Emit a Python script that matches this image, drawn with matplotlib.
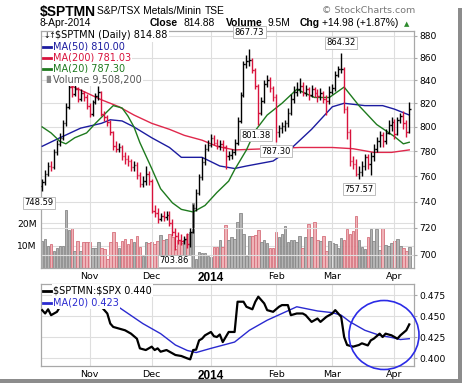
import numpy as np
import matplotlib
matplotlib.use("Agg")
import matplotlib.pyplot as plt
from matplotlib.patches import Ellipse, Rectangle
from matplotlib.lines import Line2D
from matplotlib.ticker import NullLocator, NullFormatter, FixedLocator

W, H = 464, 387

# trading-day index of the first bar of each month (Oct 9 2013 = 0)
month_labels = ["Nov", "Dec", "2014", "Feb", "Mar", "Apr"]
month_idx = [16, 37, 57, 79, 98, 119]

first_open = 752.0
closes = [
    755, 762, 768, 767, 779, 786, 791, 803, 817, 834, 828, 832, 824, 829, 825, 818,
    811, 821, 826, 830, 811, 808, 804, 796, 784, 782, 783, 776, 774, 772, 767, 769, 761, 754, 756, 762, 756,
    733, 731, 727, 729, 728, 730, 724, 717, 714, 711, 710, 712, 708, 717, 735, 747, 759, 771, 782, 785,
    791, 787, 784, 786, 783, 776, 777, 779, 787, 805, 827, 854, 857, 858, 849, 835, 812, 822, 837, 840, 833, 825,
    796, 799, 801, 803, 812, 824, 830, 832, 835, 829, 832, 827, 832, 829, 826, 829, 824, 822, 830,
    833, 845, 850, 850, 815, 796, 772, 770, 762, 763, 768, 775, 770, 776, 782, 788, 793, 788, 795, 802, 804,
    794, 806, 809, 803, 796, 814.88,
]
highs = [
    758, 765, 771, 772, 782, 789, 795, 806, 820, 840, 838, 836, 834, 832, 831, 828,
    820, 823, 829, 835, 831, 813, 810, 806, 797, 788, 787, 785, 779, 777, 774, 772, 771, 763, 760, 768, 764,
    758, 737, 735, 731, 733, 733, 733, 727, 720, 717, 715, 714, 716, 720, 738, 750, 762, 775, 786, 789,
    794, 793, 790, 789, 789, 785, 780, 782, 790, 808, 830, 857, 862, 867.73, 860, 851, 837, 825, 840, 845, 843, 835,
    828, 802, 804, 806, 816, 828, 835, 838, 842, 838, 836, 834, 836, 834, 832, 833, 831, 827, 835,
    837, 848, 853, 864.32, 852, 818, 798, 776, 774, 768, 772, 778, 778, 779, 786, 792, 797, 796, 798, 806, 808,
    807, 808, 812, 813, 806, 821,
]
lows = [
    748.59, 753, 760, 764, 766, 777, 784, 789, 801, 815, 825, 826, 821, 822, 822, 815,
    808, 809, 819, 823, 809, 805, 801, 793, 781, 779, 779, 773, 770, 768, 764, 764, 758, 751, 751, 753, 753,
    731, 728, 724, 725, 725, 726, 721, 714, 703.86, 708, 707, 708, 705, 706, 716, 733, 745, 757, 769, 780,
    783, 785, 782, 781, 780, 766, 773, 774, 777, 785, 803, 825, 851, 853, 846, 832, 801.38, 810, 820, 834, 830, 822,
    787.30, 792, 795, 797, 800, 810, 820, 826, 829, 826, 826, 823, 825, 825, 821, 823, 820, 810, 819,
    828, 831, 843, 846, 812, 790, 768, 766, 760, 757.57, 760, 765, 766, 761, 772, 779, 783, 783, 786, 794, 797,
    790, 793, 803, 798, 792, 795,
]
volume_m = [
    12.2, 13, 10, 10.7, 7.7, 8.9, 10, 10, 26, 17, 17.8, 7.7, 12, 7.7, 11.6, 11.6,
    11.8, 9, 8.9, 11.6, 9, 8.5, 4, 11.6, 16, 11.6, 9, 12, 13, 10.5, 13, 11.6, 14.4, 9.4, 5.5, 11.6, 11.3,
    11.6, 10.7, 12, 14.7, 12.3, 13, 15.3, 14, 8.6, 12.4, 11, 12.4, 15, 16, 29, 4, 7, 6.5, 6.5, 5.5,
    4.9, 9.3, 9.3, 12.4, 9.3, 19, 12.5, 14, 13, 20.7, 24.5, 15, 5.3, 14.4, 14.4, 14.7, 17, 11.6, 12.3, 11, 8.9, 8.9,
    16, 13.8, 15.2, 18.8, 11.6, 12.5, 12.5, 11.6, 14.4, 8.9, 13.8, 19.6, 13.8, 20.7, 12.5, 12, 14.4, 7.7, 12,
    11.3, 10.7, 9, 13.2, 12.6, 17.4, 15.2, 16.7, 23, 12.7, 9.2, 8.4, 13.8, 17.4, 12, 17.4, 8.2, 17.7, 10.3, 10, 11,
    12.2, 13, 10, 8.8, 7.7, 9.5,
]

# moving averages (bar index, value)
ma50_idx = [0, 6, 13, 20, 23, 27, 31, 37, 43, 47, 54, 60, 65, 69, 78, 84, 91, 98, 102, 109, 115, 119, 124]
ma50_val = [784, 791, 799, 803, 806, 805, 800, 791, 783, 775, 775, 768, 766, 768, 772, 782, 798, 817, 820, 818, 818, 815, 810.00]
ma200_idx = [9, 15, 20, 26, 31, 37, 43, 48, 54, 59, 65, 76, 87, 98, 105, 112, 118, 124]
ma200_val = [836, 829, 823, 817, 810, 803, 798, 793, 789, 784, 781, 782, 783, 783, 782, 779, 779, 781.03]
ma20_idx = [0, 3, 6, 8, 11, 15, 18, 22, 24, 27, 29, 31, 33, 37, 40, 44, 47, 51, 55, 59, 63, 65, 69, 72,
            76, 81, 86, 92, 97, 102, 107, 113, 119, 122, 124]
ma20_val = [800, 795, 788, 786, 791, 795, 803, 813, 818, 816, 809, 800, 787, 766, 750, 739, 734, 732, 737, 747,
            756, 765, 781, 797, 810, 820, 832, 825, 825, 834, 818, 802, 792, 786, 787.30]

# $SPTMN:$SPX ratio and its MA(20)
ratio_idx = [0, 1, 2, 3, 5, 6, 20, 21, 22, 23, 24, 27, 28, 30, 32, 33, 35, 37, 38, 39, 40, 42, 44, 45, 47, 49, 50,
             51, 52, 53, 54, 55, 57, 58, 59, 60, 61, 63, 65, 66, 68, 69, 71, 72, 73, 75, 76, 78, 80, 81, 83, 84,
             86, 88, 89, 91, 93, 94, 96, 98, 99, 101, 102, 103, 105, 107, 108, 110, 111, 112, 114, 115, 116, 118,
             119, 120, 121, 123, 124]
ratio_val = [0.457, 0.453, 0.458, 0.451, 0.455, 0.461, 0.461, 0.457, 0.453, 0.441, 0.437, 0.434, 0.433, 0.429,
             0.423, 0.4115, 0.4095, 0.4135, 0.4095, 0.4115, 0.4075, 0.4095, 0.4056, 0.4036, 0.4024, 0.3996,
             0.3984, 0.4095, 0.410, 0.421, 0.423, 0.427, 0.431, 0.426, 0.425, 0.428, 0.419, 0.431, 0.431,
             0.467, 0.467, 0.461, 0.458, 0.467, 0.473, 0.465, 0.457, 0.455, 0.461, 0.463, 0.463, 0.451, 0.453,
             0.453, 0.451, 0.443, 0.447, 0.443, 0.449, 0.453, 0.457, 0.449, 0.425, 0.4155, 0.4135, 0.4155,
             0.4175, 0.415, 0.421, 0.423, 0.429, 0.425, 0.429, 0.427, 0.425, 0.423, 0.427, 0.433, 0.440]
rma_idx = [24, 29, 34, 40, 45, 49, 52, 57, 65, 70, 76, 81, 86, 93, 98, 101, 104, 109, 114, 118, 121, 124]
rma_val = [0.465, 0.453, 0.441, 0.429, 0.4155, 0.409, 0.4065, 0.4115, 0.419, 0.433, 0.445, 0.453, 0.461,
           0.456, 0.454, 0.451, 0.443, 0.433, 0.427, 0.4245, 0.422, 0.423]

# price labels on the extremes: (bar, value, dx px, dy px)
price_marks = [(0, 748.59, -3, -12), (45, 703.86, -1, -11), (70, 867.73, 0, 17), (73, 801.38, -2, -10),
               (79, 787.30, 0, -9), (101, 864.32, 0, 10), (107, 757.57, 0, -10)]

UP, DOWN = "#000000", "#d8123c"
GRID = "#dedede"
SPINE = "#a8a8a8"
SANS = ["DejaVu Sans"]
ARIAL = ["Liberation Sans", "DejaVu Sans"]


def rect(left, top, right, bottom):
    return [left / W, 1 - bottom / H, (right - left) / W, (bottom - top) / H]


def fxy(x, y):
    return x / W, 1 - y / H


c = np.array(closes, dtype=float)
o = np.concatenate([[first_open], c[:-1]])
hi = np.array(highs, dtype=float)
lo = np.array(lows, dtype=float)
n = len(c)
x = np.arange(n)
up = c >= o
cols = np.where(up, UP, DOWN)

fig = plt.figure(figsize=(W / 100, H / 100), dpi=100)
fig.patch.set_facecolor("white")

# ---------- price panel ----------
axv = fig.add_axes(rect(41, 31, 414, 268), zorder=1)
ax = fig.add_axes(rect(41, 31, 414, 268), zorder=2)
ax.patch.set_visible(False)

vface = np.where(up, "#b4b4b4", "#efb3b8")
vedge = np.where(up, "#888888", "#d6707c")
axv.bar(x, volume_m, width=0.86, color=vface, edgecolor=vedge, linewidth=0.6)
axv.set_ylim(0, 105.8)
axv.set_xlim(-0.4, 125.6)
axv.set_yticks([10, 20])
axv.set_yticklabels(["10M", "20M"], fontsize=6.6, family=SANS)
axv.tick_params(axis="y", length=0, pad=3)
axv.tick_params(axis="x", bottom=False, labelbottom=False)
for v in [10, 20]:
    axv.axhline(v, color=GRID, lw=0.8, zorder=0)
for s in axv.spines.values():
    s.set_visible(False)

ax.set_yscale("log")
ax.set_ylim(690.4, 884.3)
ax.set_xlim(-0.4, 125.6)
ax.yaxis.set_major_locator(FixedLocator(list(range(700, 881, 20))))
ax.yaxis.set_minor_locator(NullLocator())
ax.yaxis.set_minor_formatter(NullFormatter())
ax.set_yticklabels([str(v) for v in range(700, 881, 20)])
ax.yaxis.tick_right()
ax.tick_params(axis="y", labelsize=6.6, length=2, color=SPINE, pad=2)
for t in ax.get_yticklabels():
    t.set_family(SANS)
ax.set_xticks(month_idx)
ax.set_xticklabels(month_labels)
ax.tick_params(axis="x", length=0, pad=3, labelsize=6.8)
for t in ax.get_xticklabels():
    t.set_family(SANS)
    if t.get_text() == "2014":
        t.set_fontweight("bold")
        t.set_family(ARIAL)
        t.set_fontsize(8.5)
for v in range(700, 881, 20):
    ax.axhline(v, color=GRID, lw=0.8, zorder=0)
for m in month_idx:
    ax.axvline(m, color=GRID, lw=0.8, zorder=0)
for s in ax.spines.values():
    s.set_color(SPINE)
    s.set_linewidth(0.9)

ax.plot(ma200_idx, ma200_val, color="#e0284c", lw=1.0, zorder=3)
ax.plot(ma50_idx, ma50_val, color="#1c1ca0", lw=1.0, zorder=3)
ax.plot(ma20_idx, ma20_val, color="#1e7a1e", lw=1.0, zorder=3)

ax.vlines(x, lo, hi, colors=cols, lw=1.0, zorder=4)
ax.hlines(o, x - 0.45, x, colors=cols, lw=1.0, zorder=4)
ax.hlines(c, x, x + 0.45, colors=cols, lw=1.0, zorder=4)

for bi, val, dx, dy in price_marks:
    ax.annotate(f"{val:.2f}", xy=(bi, val), xytext=(dx * 0.72, dy * 0.72), textcoords="offset points",
                ha="center", va="center", fontsize=6.0, family=SANS, zorder=9, annotation_clip=False,
                bbox=dict(boxstyle="square,pad=0.18", facecolor="white", edgecolor="#bdbdbd", lw=0.7))

# legend of the price panel
legend_rows = [
    ("\\$SPTMN (Daily) 814.88", "#000000", 35.5, None),
    ("MA(50) 810.00", "#1c1ca0", 46.5, "#1c1ca0"),
    ("MA(200) 781.03", "#d8123c", 57.5, "#d8123c"),
    ("MA(20) 787.30", "#1e7a1e", 68.5, "#1e7a1e"),
    ("Volume 9,508,200", "#555555", 79.5, None),
]
for txt, colr, yy, dash in legend_rows:
    xx = 55 if txt.startswith("\\$") else 53
    fig.text(*fxy(xx, yy), txt, color=colr, fontsize=7.0, family=SANS, va="center", ha="left", zorder=10,
             bbox=dict(boxstyle="square,pad=0.12", facecolor="white", edgecolor="none"))
    if dash:
        fig.add_artist(Line2D([43 / W, 51 / W], [1 - yy / H] * 2, color=dash, lw=2.0, zorder=11))
fig.text(*fxy(43, 35.5), "\u2193\u2191", color="#000000", fontsize=5.5, family=SANS, va="center", zorder=11)
fig.text(*fxy(43, 79.5), "\u2590\u258c", color="#888888", fontsize=5.0, family=SANS, va="center", zorder=11)

# ---------- ratio panel ----------
ax2 = fig.add_axes(rect(41, 284, 414, 366))
ax2.set_xlim(-0.4, 125.6)
ax2.set_ylim(0.3905, 0.4881)
ax2.plot(rma_idx, rma_val, color="#2a2ad0", lw=1.0, zorder=3)
ax2.plot(ratio_idx, ratio_val, color="#000000", lw=1.6, zorder=4)
ax2.yaxis.tick_right()
ax2.set_yticks([0.400, 0.425, 0.450, 0.475])
ax2.set_yticklabels(["0.400", "0.425", "0.450", "0.475"])
ax2.tick_params(axis="y", labelsize=6.6, length=2, color=SPINE, pad=2)
for t in ax2.get_yticklabels():
    t.set_family(SANS)
ax2.set_xticks(month_idx)
ax2.set_xticklabels(month_labels)
ax2.tick_params(axis="x", length=0, pad=3, labelsize=6.8)
for t in ax2.get_xticklabels():
    t.set_family(SANS)
    if t.get_text() == "2014":
        t.set_fontweight("bold")
        t.set_family(ARIAL)
        t.set_fontsize(8.5)
for v in [0.400, 0.425, 0.450, 0.475]:
    ax2.axhline(v, color=GRID, lw=0.8, zorder=0)
for m in month_idx:
    ax2.axvline(m, color=GRID, lw=0.8, zorder=0)
for s in ax2.spines.values():
    s.set_color(SPINE)
    s.set_linewidth(0.9)

for txt, colr, yy in [("\\$SPTMN:\\$SPX 0.440", "#000000", 290.5), ("MA(20) 0.423", "#2a2ad0", 302.5)]:
    fig.text(*fxy(53, yy), txt, color=colr, fontsize=7.0, family=SANS, va="center", ha="left", zorder=10,
             bbox=dict(boxstyle="square,pad=0.12", facecolor="white", edgecolor="none"))
    fig.add_artist(Line2D([43 / W, 51 / W], [1 - yy / H] * 2, color=colr, lw=2.0, zorder=11))

# highlight circle
fig.add_artist(Ellipse(fxy(384, 335), 70 / W, 69 / H, transform=fig.transFigure, fill=False,
                       edgecolor="#2b2be6", lw=1.2, zorder=12))

# ---------- header ----------
fig.text(*fxy(40, 16), "\\$SPTMN", fontsize=10, fontweight="bold", family=ARIAL, va="baseline")
fig.text(*fxy(97, 14), "S&P/TSX Metals/Minin", fontsize=7.4, family=ARIAL, va="baseline")
fig.text(*fxy(205, 14), "TSE", fontsize=7.4, family=ARIAL, va="baseline")
fig.text(*fxy(322, 13), "\u00a9 StockCharts.com", fontsize=6.8, family=SANS, color="#777777", va="baseline")
fig.text(*fxy(40, 26), "8-Apr-2014", fontsize=7.4, family=ARIAL, va="baseline")
for xx, txt, bold in [(150, "Close", True), (184, "814.88", False), (226, "Volume", True), (268, "9.5M", False),
                      (300, "Chg", True), (322, "+14.98 (+1.87%)", False)]:
    fig.text(*fxy(xx, 26), txt, fontsize=7.4, family=ARIAL, va="baseline",
             fontweight="bold" if bold else "normal")
fig.text(*fxy(404, 26), "\u25b2", fontsize=5.0, family=SANS, color="#2e8b2e", va="baseline")

# frame shadow
fig.add_artist(Rectangle((458 / W, 1 - 383 / H), 4 / W, 375 / H, transform=fig.transFigure,
                         facecolor="#8c8c8c", edgecolor="none"))
fig.add_artist(Rectangle((0, 1 - 383 / H), 462 / W, 4 / H, transform=fig.transFigure,
                         facecolor="#8c8c8c", edgecolor="none"))

fig.savefig("out.png", dpi=100, facecolor="white")
